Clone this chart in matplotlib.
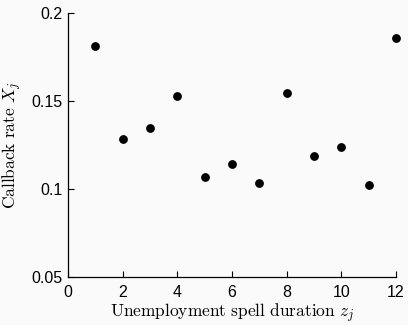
import matplotlib
matplotlib.use('Agg')
import matplotlib.pyplot as plt

# spell duration (months) and callback rate
duration = [1, 2, 3, 4, 5, 6, 7, 8, 9, 10, 11, 12]
callback = [0.1814, 0.1282, 0.1347, 0.1530, 0.1068, 0.1142,
            0.1034, 0.1544, 0.1186, 0.1240, 0.1023, 0.1856]

xticks = [0, 2, 4, 6, 8, 10, 12]
yticks = [0.05, 0.1, 0.15, 0.2]
ytick_labels = ["0.05", "0.1", "0.15", "0.2"]

plt.rcParams['mathtext.fontset'] = 'cm'
plt.rcParams['font.family'] = ['Liberation Sans', 'DejaVu Sans']

bg = "#fafafa"
fig = plt.figure(figsize=(4.08, 3.25), dpi=100, facecolor=bg)
ax = fig.add_axes([0.1667, 0.1477, 0.8039, 0.8123], facecolor=bg)

ax.plot(duration, callback, "o", color="black", markersize=5.3, clip_on=False)

ax.set_xlim(0, 12)
ax.set_ylim(0.05, 0.2)
ax.set_xticks(xticks)
ax.set_yticks(yticks)
ax.set_yticklabels(ytick_labels)
ax.tick_params(direction="in", length=4, width=0.8, labelsize=11.5)
ax.tick_params(axis="x", pad=6)
ax.tick_params(axis="y", pad=4)

for side in ["top", "right"]:
    ax.spines[side].set_visible(False)
for side in ["left", "bottom"]:
    ax.spines[side].set_linewidth(0.9)

ax.set_xlabel(r"$\mathrm{Unemployment\ spell\ duration}\ z_j$", fontsize=12.5)
ax.set_ylabel(r"$\mathrm{Callback\ rate}\ X_j$", fontsize=12.5)
ax.xaxis.set_label_coords(0.5, -0.094)
ax.yaxis.set_label_coords(-0.134, 0.5)

fig.savefig("out.png", dpi=100, facecolor=bg)
